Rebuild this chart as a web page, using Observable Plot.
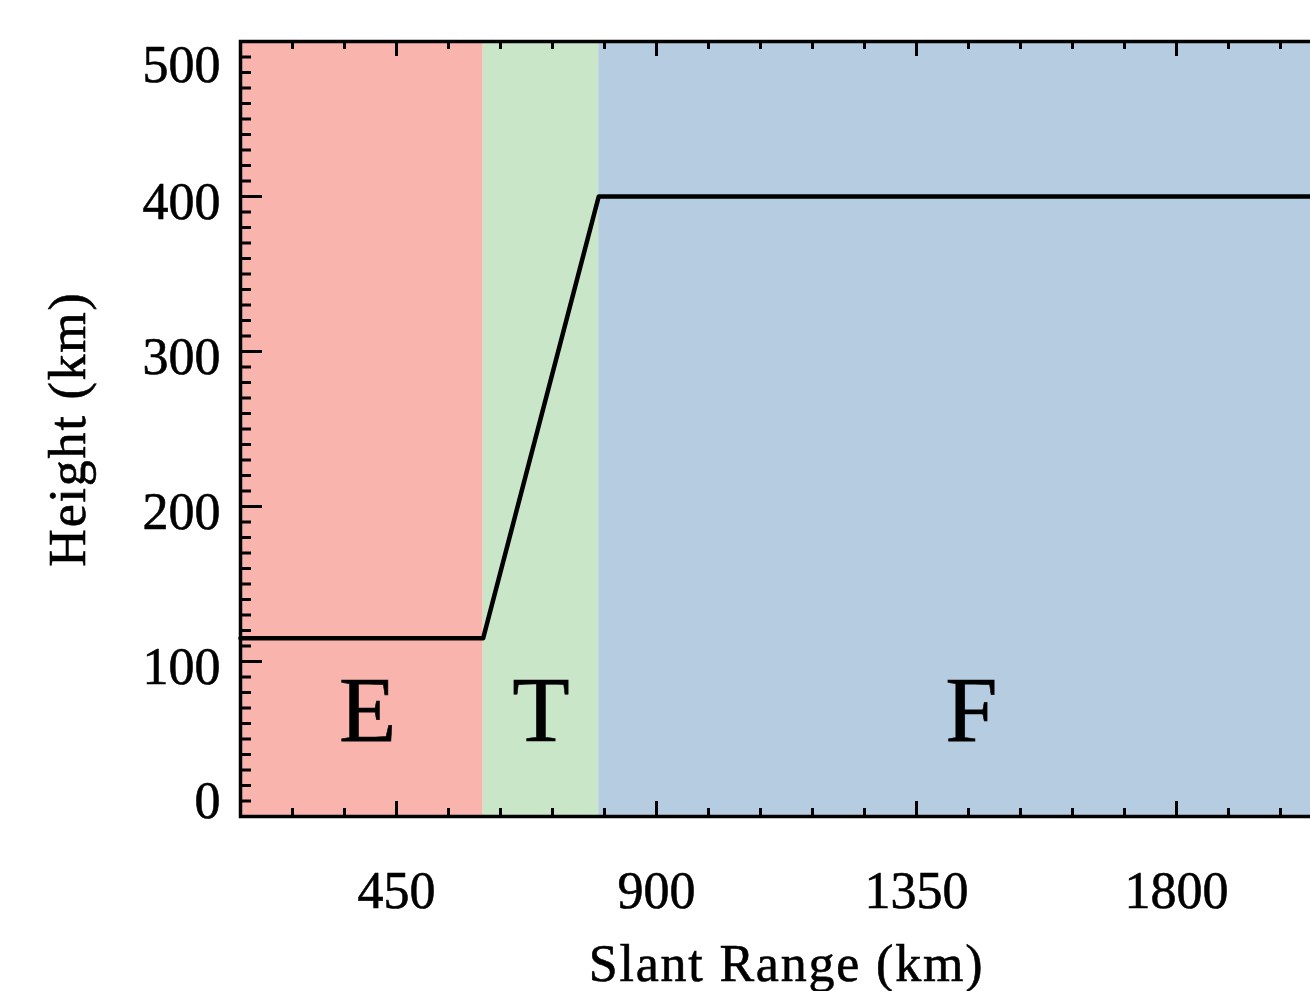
<!DOCTYPE html>
<html>
<head>
<meta charset="utf-8">
<script src="https://cdn.jsdelivr.net/npm/d3@7"></script>
<script src="https://cdn.jsdelivr.net/npm/@observablehq/plot@0.6"></script>
<style>
  html, body { margin: 0; padding: 0; background: #fff; overflow: hidden; }
  #wrap { width: 1310px; height: 991px; overflow: hidden; }
  #wrap svg { max-width: none !important; width: 1340px; height: 991px; }
  svg text { font-family: "Liberation Serif", "Times New Roman", serif; stroke: #000; stroke-width: 0.6px; }
</style>
</head>
<body>
<div id="wrap"></div>
<script>
// Regions
const regionNames = ["E", "T", "F"];
const regionStart = [180, 600, 800];
const regionEnd = [600, 800, 2070];
const regionColors = ["#F9B4AE", "#CAE6C9", "#B6CCE1"];
const regionLabelX = [400, 700, 1445];
const regionLabelY = [68, 68, 68];

// Height profile
const profileRange = [180, 600, 800, 2070];
const profileHeight = [115, 115, 400, 400];

// Axes
const xTitle = "Slant Range (km)";
const yTitle = "Height (km)";
const xDomain = [180, 2070];
const yDomain = [0, 500];
const xMajorTicks = [450, 900, 1350, 1800];
const xMinorTicks = d3.range(270, 2070, 90).filter(v => !xMajorTicks.includes(v));
const yMajorTicks = [0, 100, 200, 300, 400, 500];
const yMinorTicks = d3.range(10, 500, 10).filter(v => v % 100 !== 0);
const yInnerLabels = [100, 200, 300, 400];
const yTopLabel = [500];
const yBottomLabel = [0];

const regions = regionNames.map((name, i) => ({
  name, start: regionStart[i], end: regionEnd[i], color: regionColors[i],
  lx: regionLabelX[i], ly: regionLabelY[i]
}));
const profile = profileRange.map((r, i) => ({range: r, height: profileHeight[i]}));

const tickStyle = {strokeWidth: 3, stroke: "black", tickFormat: () => "", label: null};
const labelStyle = {tickSize: 0, fontSize: 52, fill: "black", label: null, tickFormat: d => String(d)};

const chart = Plot.plot({
  width: 1340,
  height: 991,
  marginLeft: 240,
  marginRight: 8,
  marginTop: 41,
  marginBottom: 175,
  x: {domain: xDomain},
  y: {domain: yDomain},
  style: {fontFamily: "Liberation Serif, Times New Roman, serif", background: "white", maxWidth: "none"},
  marks: [
    Plot.rect(regions, {x1: "start", x2: "end", y1: yDomain[0], y2: yDomain[1], fill: "color"}),
    Plot.line(profile, {x: "range", y: "height", stroke: "black", strokeWidth: 4.5}),
    Plot.text(regions, {x: "lx", y: "ly", text: "name", fontSize: 94, fill: "black",
      textAnchor: "middle", lineAnchor: "middle"}),
    // inward ticks, bottom & top
    Plot.axisX(xMajorTicks, {anchor: "bottom", tickSize: -15, ...tickStyle}),
    Plot.axisX(xMinorTicks, {anchor: "bottom", tickSize: -8, ...tickStyle}),
    Plot.axisX(xMajorTicks, {anchor: "top", tickSize: -14, ...tickStyle}),
    Plot.axisX(xMinorTicks, {anchor: "top", tickSize: -7, ...tickStyle}),
    // inward ticks, left & right
    Plot.axisY(yMajorTicks, {anchor: "left", tickSize: -22, ...tickStyle}),
    Plot.axisY(yMinorTicks, {anchor: "left", tickSize: -11, ...tickStyle}),
    Plot.axisY(yMajorTicks, {anchor: "right", tickSize: -22, ...tickStyle}),
    Plot.axisY(yMinorTicks, {anchor: "right", tickSize: -11, ...tickStyle}),
    // tick labels
    Plot.axisX(xMajorTicks, {anchor: "bottom", tickPadding: 55, ...labelStyle}),
    Plot.axisY(yInnerLabels, {anchor: "left", tickPadding: 20, dy: 6, ...labelStyle}),
    Plot.axisY(yTopLabel, {anchor: "left", tickPadding: 20, dy: 24, ...labelStyle}),
    Plot.axisY(yBottomLabel, {anchor: "left", tickPadding: 20, dy: -15, ...labelStyle}),
    // axis titles
    Plot.text([xTitle], {frameAnchor: "bottom", dy: 148, fontSize: 52,
      fill: "black", textAnchor: "middle", lineAnchor: "middle"}),
    Plot.text([yTitle], {frameAnchor: "left", dx: -172, rotate: -90, fontSize: 52,
      fill: "black", textAnchor: "middle", lineAnchor: "middle"}),
    Plot.frame({stroke: "black", strokeWidth: 3.5})
  ]
});
d3.select(chart).selectAll("text")
  .filter(function() { return this.textContent === xTitle || this.textContent === yTitle; })
  .style("letter-spacing", "1.8px");
document.getElementById("wrap").appendChild(chart);
</script>
</body>
</html>
